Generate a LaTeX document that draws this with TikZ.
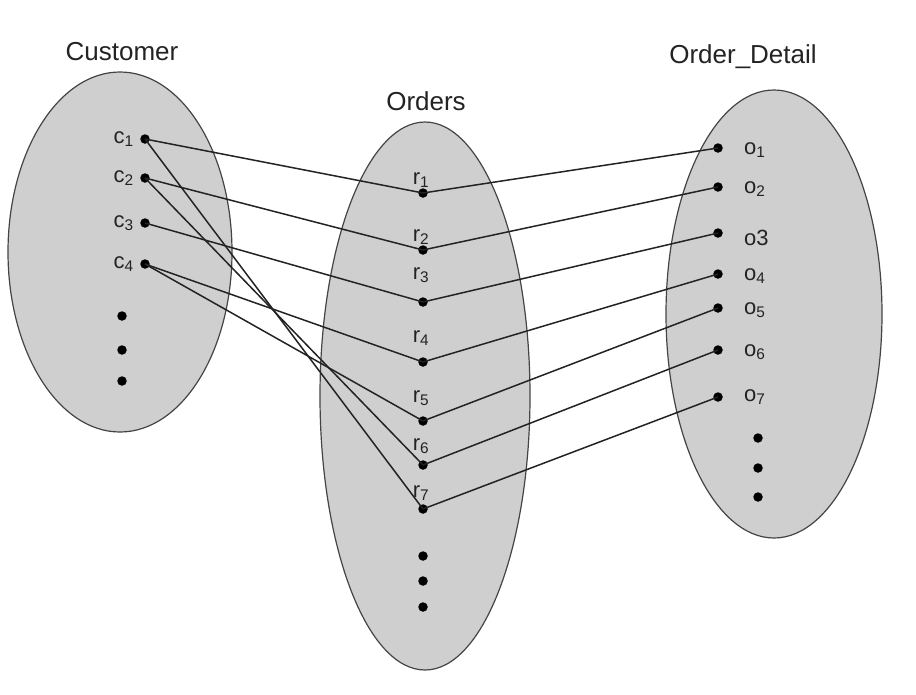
\documentclass[tikz,border=0pt]{standalone}
\usepackage{fontspec}
\setmainfont{Liberation Sans}
\usetikzlibrary{shapes.geometric}
\definecolor{setfill}{RGB}{207,207,207}
\definecolor{ink}{RGB}{35,35,35}
\begin{document}
\begin{tikzpicture}[x=1pt,y=-1pt,
  setshape/.style={ellipse,draw=ink!85,line width=1.2pt,fill=setfill,inner sep=0pt},
  title/.style={font=\fontsize{26}{30}\selectfont,text=ink},
  elem/.style={circle,fill=black,inner sep=0pt,minimum size=9.5pt},
  elemlabel/.style={font=\fontsize{22}{26}\selectfont,text=ink,inner sep=0pt},
  link/.style={draw=ink,line width=1.5pt}]
\useasboundingbox (0,0) rectangle (916,694);

% the three entity sets
\node[setshape,minimum width=224pt,minimum height=360pt] (cust) at (120,252) {};
\node[setshape,minimum width=210pt,minimum height=548pt] (ord) at (425,396) {};
\node[setshape,minimum width=216pt,minimum height=448pt] (det) at (774,314) {};

\node[title] (custT) at (122,52) {Customer};
\node[title] (ordT) at (426,101) {Orders};
\node[title] (detT) at (743,57) {Order\_Detail};

% Customer elements
\foreach \n/\y in {1/139,2/178,3/223,4/264}{
  \node[elem] (c\n) at (145,\y) {};
  \node[elemlabel,anchor=east] (lc\n) at (134,\y) {c\textsubscript{\n}};
}
\node[elem] (cd1) at (122,316) {};
\node[elem] (cd2) at (122,350) {};
\node[elem] (cd3) at (122,381) {};

% Orders elements
\foreach \n/\y in {1/193,2/250,3/302,4/362,5/421,6/465,7/509}{
  \node[elem] (r\n) at (423,\y) {};
}
\node[elemlabel,anchor=south] (lr1) at (421,188) {r\textsubscript{1}};
\node[elemlabel,anchor=south] (lr2) at (421,245) {r\textsubscript{2}};
\node[elemlabel,anchor=south] (lr3) at (421,283) {r\textsubscript{3}};
\node[elemlabel,anchor=south] (lr4) at (421,346) {r\textsubscript{4}};
\node[elemlabel,anchor=south] (lr5) at (421,406) {r\textsubscript{5}};
\node[elemlabel,anchor=south] (lr6) at (421,454) {r\textsubscript{6}};
\node[elemlabel,anchor=south] (lr7) at (421,501) {r\textsubscript{7}};
\node[elem] (rd1) at (423,556) {};
\node[elem] (rd2) at (423,581) {};
\node[elem] (rd3) at (423,607) {};

% Order_Detail elements
\foreach \n/\y in {1/148,2/187,3/233,4/274,5/308,6/350,7/397}{
  \node[elem] (o\n) at (718,\y) {};
}
\node[elemlabel,anchor=west] (lo1) at (744,150) {o\textsubscript{1}};
\node[elemlabel,anchor=west] (lo2) at (744,189) {o\textsubscript{2}};
\node[elemlabel,anchor=west] (lo3) at (744,238) {o3};
\node[elemlabel,anchor=west] (lo4) at (744,276) {o\textsubscript{4}};
\node[elemlabel,anchor=west] (lo5) at (744,310) {o\textsubscript{5}};
\node[elemlabel,anchor=west] (lo6) at (744,352) {o\textsubscript{6}};
\node[elemlabel,anchor=west] (lo7) at (744,397) {o\textsubscript{7}};
\node[elem] (od1) at (758,438) {};
\node[elem] (od2) at (758,468) {};
\node[elem] (od3) at (758,497) {};

% Customer -- Orders
\draw[link] (c1.center) -- (r1.center);
\draw[link] (c1.center) -- (r7.center);
\draw[link] (c2.center) -- (r2.center);
\draw[link] (c2.center) -- (r6.center);
\draw[link] (c3.center) -- (r3.center);
\draw[link] (c4.center) -- (r4.center);
\draw[link] (c4.center) -- (r5.center);

% Orders -- Order_Detail
\foreach \n in {1,...,7}{
  \draw[link] (r\n.center) -- (o\n.center);
}
\end{tikzpicture}
\end{document}
